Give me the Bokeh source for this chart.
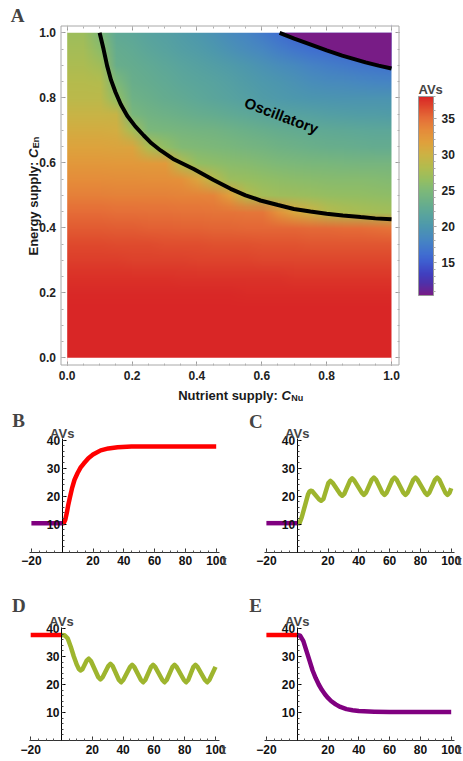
import zlib
import struct
import base64
import numpy as np
from bokeh.plotting import figure
from bokeh.models import (LinearAxis, FixedTicker, Label, LinearColorMapper, ColorBar,
                          Range1d, PrintfTickFormatter)
from bokeh.layouts import column, row
from bokeh.embed import file_html
from bokeh.resources import INLINE

# ---------------- data: panel A (heat map) ----------------
cnu_grid = [round(0.05 * i, 2) for i in range(21)]   # nutrient supply (columns)
cen_grid = [round(0.05 * i, 2) for i in range(21)]   # energy supply (rows, bottom to top)
avs_grid = [
    [38.0] * 21,
    [38.0] * 21,
    [38.0] * 21,
    [37.9] * 21,
    [37.8] * 11 + [37.7] * 10,
    [37.5] * 7 + [37.4] * 7 + [37.3] * 7,
    [37.0, 37.0, 37.0, 37.0, 36.9, 36.9, 36.9, 36.9, 36.8, 36.8, 36.8, 36.8, 36.7, 36.7, 36.7, 36.7, 36.6, 36.6, 36.6, 36.6, 36.6],
    [36.5, 36.5, 36.5, 36.4, 36.4, 36.4, 36.3, 36.3, 36.3, 36.2, 36.2, 36.2, 36.1, 36.1, 36.1, 36.0, 36.0, 36.0, 36.0, 36.0, 36.0],
    [35.8, 35.8, 35.8, 35.7, 35.7, 35.6, 35.6, 35.5, 35.5, 35.4, 35.4, 35.3, 35.3, 35.2, 35.2, 35.1, 35.1, 35.0, 35.0, 34.8, 34.6],
    [35.0, 35.0, 35.0, 34.9, 34.9, 34.8, 34.8, 34.7, 34.7, 34.6, 34.6, 34.5, 34.5, 32.8, 31.0, 30.0, 28.6, 28.0, 27.7, 27.5, 27.3],
    [34.0, 34.0, 34.0, 33.9, 33.9, 33.8, 33.8, 33.7, 33.7, 33.6, 31.8, 28.5, 27.4, 27.1, 26.9, 26.7, 26.5, 26.4, 26.3, 26.2, 26.1],
    [33.2, 33.2, 33.2, 33.1, 33.1, 33.0, 33.0, 32.9, 31.3, 28.6, 26.9, 26.6, 26.3, 26.1, 25.9, 25.8, 25.7, 25.6, 25.5, 25.4, 25.3],
    [32.3, 32.3, 32.3, 32.2, 32.2, 32.1, 32.1, 28.3, 26.4, 26.1, 25.8, 25.5, 25.2, 25.0, 24.8, 24.7, 24.6, 24.5, 24.4, 24.4, 24.4],
    [31.4, 31.4, 31.4, 31.3, 31.3, 28.0, 26.3, 25.3, 25.1, 24.9, 24.7, 24.4, 24.1, 23.8, 23.6, 23.4, 23.2, 23.1, 23.0, 22.9, 22.8],
    [30.5, 30.5, 30.5, 30.4, 27.5, 24.8, 24.6, 24.4, 24.2, 24.0, 23.7, 23.4, 23.1, 22.8, 22.6, 22.4, 22.3, 22.2, 22.1, 22.0, 22.0],
    [29.6, 29.6, 29.6, 29.5, 24.6, 23.9, 23.6, 23.3, 23.0, 22.7, 22.4, 22.1, 21.8, 21.5, 21.3, 21.1, 20.9, 20.8, 20.7, 20.7, 20.6],
    [28.8, 28.8, 28.8, 26.3, 23.7, 23.3, 22.9, 22.5, 22.1, 21.8, 21.4, 21.0, 20.6, 20.3, 20.0, 19.8, 19.7, 19.6, 19.6, 19.6, 19.6],
    [28.3, 28.3, 28.2, 25.0, 23.2, 22.8, 22.4, 22.0, 21.7, 21.4, 21.0, 20.6, 20.2, 19.8, 19.4, 19.0, 18.7, 18.5, 18.3, 18.1, 18.0],
    [27.8, 27.8, 27.2, 23.2, 22.8, 22.4, 22.0, 21.6, 21.2, 20.8, 20.4, 19.9, 19.4, 18.9, 18.4, 17.9, 17.5, 17.1, 16.8, 16.6, 16.4],
    [27.4, 27.4, 26.0, 22.8, 22.4, 21.9, 21.4, 20.9, 20.5, 20.0, 19.4, 18.8, 18.2, 17.5, 16.8, 16.3, 16.0, 15.7, 15.5, 15.3, 15.1],
    [27.0, 27.0, 25.0, 22.3, 22.0, 21.5, 21.0, 20.5, 20.0, 19.4, 18.7, 18.0, 17.2, 16.3, 15.5, 15.0, 14.5, 14.0, 13.5, 13.0, 12.5],
]
lower_cnu = [0.100, 0.112, 0.123, 0.135, 0.149, 0.165, 0.185, 0.21, 0.236, 0.26, 0.288,
             0.33, 0.39, 0.45, 0.504, 0.55, 0.596, 0.65, 0.699, 0.75, 0.80, 0.85, 0.905, 0.95, 1.0]
lower_cen = [1.0, 0.95, 0.899, 0.855, 0.817, 0.78, 0.745, 0.712, 0.684, 0.66, 0.638,
             0.61, 0.581, 0.548, 0.52, 0.50, 0.484, 0.47, 0.458, 0.45, 0.443, 0.438, 0.433, 0.429, 0.426]
upper_cnu = [0.655, 0.70, 0.745, 0.80, 0.848, 0.92, 0.96, 1.0]
upper_cen = [1.0, 0.982, 0.966, 0.946, 0.930, 0.909, 0.899, 0.890]
axis_ticks = [0.0, 0.2, 0.4, 0.6, 0.8, 1.0]
colorbar_ticks = [15, 20, 25, 30, 35]
avs_low, avs_high = 10.4, 38.0
region_label = "Oscillatory"

# ---------------- data: panels B-E (time courses) ----------------
t_pre = [-20, 0]
B_pre = [10.3, 10.3]
B_t = [0, 1, 2, 3, 4, 5, 6.5, 8, 10, 12, 14, 17, 20, 25, 30, 36, 45, 60, 100]
B_avs = [10.3, 10.3, 11.5, 14, 17, 19.5, 23, 25.8, 28.2, 30.2, 31.6, 33.5, 34.8, 36.3, 37.0, 37.4, 37.7, 37.7, 37.7]

C_pre = [10.3, 10.3]
C_t = [0, 1.5, 3, 5, 7, 8.0, 8.7, 9.8,
       14.2, 15.6, 17.0, 20.2, 21.6, 23.0, 27.8, 29.2, 30.6, 34.3, 35.7, 37.1,
       41.9, 43.3, 44.7, 48.4, 49.8, 51.2, 55.3, 56.7, 58.1, 61.8, 63.2, 64.6,
       68.9, 70.3, 71.7, 75.4, 76.8, 78.2, 83.0, 84.4, 85.8, 89.5, 90.9, 92.3,
       96.2, 97.6, 99.0, 100]
C_avs = [10.3, 10.3, 12.5, 16.5, 20.5, 21.6, 21.9, 21.7,
         18.8, 18.3, 18.9, 24.6, 25.4, 24.7, 20.8, 20.1, 20.8, 25.5, 26.3, 25.5,
         21.2, 20.4, 21.2, 25.8, 26.6, 25.8, 21.2, 20.4, 21.2, 25.8, 26.6, 25.8,
         21.2, 20.4, 21.2, 25.8, 26.6, 25.8, 21.2, 20.4, 21.2, 25.8, 26.6, 25.8,
         21.2, 20.4, 21.2, 22.8]

D_pre = [37.7, 37.7]
D_t = [0, 2, 4, 6, 8, 10, 11.2, 12.3, 13.5,
       16.3, 17.7, 19.1, 23.9, 25.3, 26.7, 30.4, 31.8, 33.2, 37.3, 38.7, 40.1,
       44.5, 45.9, 47.3, 51.6, 53.0, 54.4, 58.1, 59.5, 60.9, 65.5, 66.9, 68.3,
       72.0, 73.4, 74.8, 79.5, 80.9, 82.3, 85.6, 87.0, 88.4, 93.2, 94.6, 96.0, 100]
D_avs = [37.7, 37.6, 36.5, 33.5, 30.0, 27.0, 25.6, 25.0, 25.4,
         28.5, 29.2, 28.4, 22.6, 21.8, 22.6, 26.6, 27.4, 26.6, 21.6, 20.8, 21.6,
         26.2, 27.0, 26.2, 21.6, 20.8, 21.6, 26.2, 27.0, 26.2, 21.6, 20.8, 21.6,
         26.2, 27.0, 26.2, 21.6, 20.8, 21.6, 26.2, 27.0, 26.2, 21.6, 20.8, 21.6, 26.3]

E_pre = [37.7, 37.7]
E_t = [0, 2, 4, 6, 8, 10, 12, 14, 16, 18, 20, 22, 25, 28, 32, 36, 40, 50, 60, 100]
E_avs = [37.7, 37.4, 35.5, 32.0, 28.5, 25.0, 22.3, 20.0, 18.1, 16.5, 15.2, 14.1, 12.9, 12.0, 11.2, 10.8, 10.5, 10.3, 10.2, 10.2]

x_ticks_small = [-20, 20, 40, 60, 80, 100]
y_ticks_small = [10, 20, 30, 40]

# ---------------- styling ----------------
SANS = "Liberation Sans"
SERIF = "Liberation Serif"
RED = "#FF0000"
PURPLE = "#800080"
OLIVE = "#9EB52E"

stops = [(10.4, "#781C86"), (12.0, "#5030A8"), (13.4, "#4040C0"), (15.0, "#3E5DD0"),
         (16.2, "#406FD0"), (18.0, "#4685C3"), (20.0, "#4D98AD"), (21.7, "#5AA59C"),
         (23.1, "#68AE8C"), (25.0, "#7EB978"), (26.4, "#94BE62"), (28.2, "#B2BC4E"),
         (30.0, "#CDB244"), (31.7, "#E0A03C"), (33.3, "#E58C3A"), (35.0, "#E56E38"),
         (36.3, "#E0502F"), (38.0, "#D92626")]


def hex2rgb(h):
    return [int(h[i:i + 2], 16) for i in (1, 3, 5)]


def build_palette(n=256):
    vals = np.array([s[0] for s in stops])
    cols = np.array([hex2rgb(s[1]) for s in stops], dtype=float)
    out = []
    for v in np.linspace(vals[0], vals[-1], n):
        rgb = [np.interp(v, vals, cols[:, k]) for k in range(3)]
        out.append("#%02x%02x%02x" % tuple(int(round(c)) for c in rgb))
    return out


palette = build_palette()
mapper = LinearColorMapper(palette=palette, low=avs_low, high=avs_high)


def map_color(v):
    n = len(palette)
    k = int((v - avs_low) / (avs_high - avs_low) * n)
    return hex2rgb(palette[min(max(k, 0), n - 1)])


def grid_png_url(grid):
    rows = [list(r) for r in grid[::-1]]   # PNG rows run top to bottom
    h, w = len(rows), len(rows[0])
    raw = b"".join(b"\x00" + bytes([c for v in r for c in map_color(v)]) for r in rows)

    def chunk(tag, data):
        return (struct.pack(">I", len(data)) + tag + data +
                struct.pack(">I", zlib.crc32(tag + data) & 0xffffffff))
    png = (b"\x89PNG\r\n\x1a\n" + chunk(b"IHDR", struct.pack(">IIBBBBB", w, h, 8, 2, 0, 0, 0)) +
           chunk(b"IDAT", zlib.compress(raw)) + chunk(b"IEND", b""))
    return "data:image/png;base64," + base64.b64encode(png).decode()


# ---------------- panel A ----------------
W_A, H_A = 463, 404
FL, FR, FT, FB = 60, 398, 25, 364          # grey frame box, canvas px
DL, DR, DT, DB = 66.7, 391.0, 32.3, 357.3   # data square [0,1]^2, canvas px
sxA = DR - DL
syA = DB - DT


def a_x(px):
    return (px - DL) / sxA


def a_y(py):
    return (DB - py) / syA


pa = figure(width=W_A, height=H_A, x_range=Range1d(a_x(0), a_x(W_A)),
            y_range=Range1d(a_y(H_A), a_y(0)),
            output_backend="svg", toolbar_location=None,
            x_axis_location=None, y_axis_location=None,
            min_border=0, min_border_left=0, min_border_right=0,
            min_border_top=0, min_border_bottom=0)
pa.outline_line_color = None
pa.xgrid.visible = False
pa.ygrid.visible = False

step = cnu_grid[1] - cnu_grid[0]
pa.image_url(url=[grid_png_url(avs_grid)], x=cnu_grid[0] - step / 2, y=cen_grid[-1] + step / 2,
             w=cnu_grid[-1] - cnu_grid[0] + step, h=cen_grid[-1] - cen_grid[0] + step,
             anchor="top_left")
# white margin around the data square
pa.quad(left=[-5, 1, 0, 0], right=[0, 5, 1, 1], bottom=[-5, -5, -5, 1], top=[5, 5, 0, 5],
        fill_color="white", line_color=None)
pa.patch(x=upper_cnu + [1.0], y=upper_cen + [1.0], fill_color=palette[0], line_color=None)
pa.line(lower_cnu, lower_cen, line_width=4, color="black")
pa.line(upper_cnu, upper_cen, line_width=4, color="black")
pa.quad(left=[a_x(FL + 0.5)], right=[a_x(FR + 0.5)], bottom=[a_y(FB + 0.5)], top=[a_y(FT + 0.5)],
        fill_color=None, line_color="#a8a8a8", line_width=1)

pa.add_layout(Label(x=a_x(281), y=a_y(115), text=region_label, angle=-0.36,
                    text_align="center", text_baseline="middle", text_font=SANS,
                    text_font_style="bold", text_font_size="15px", text_color="black"))

minor_a = [round(0.05 * i, 2) for i in range(21)]


def frame_axis(loc, side, tick_in, show_labels, standoff=5):
    ax = LinearAxis(fixed_location=loc,
                    ticker=FixedTicker(ticks=axis_ticks, minor_ticks=minor_a),
                    formatter=PrintfTickFormatter(format="%.1f"))
    ax.axis_line_color = None
    ax.major_tick_line_color = "#9a9a9a"
    ax.minor_tick_line_color = "#b0b0b0"
    if tick_in:
        ax.major_tick_in, ax.major_tick_out, ax.minor_tick_in, ax.minor_tick_out = 4, 0, 2, 0
    else:
        ax.major_tick_in, ax.major_tick_out, ax.minor_tick_in, ax.minor_tick_out = 0, 4, 0, 2
    ax.major_label_text_font = SANS
    ax.major_label_text_font_style = "bold"
    ax.major_label_text_font_size = "12px"
    ax.major_label_text_color = "#222222" if show_labels else None
    ax.major_label_standoff = standoff
    pa.add_layout(ax, side)


frame_axis(a_y(FB + 0.5), "below", True, True, 6)
frame_axis(a_y(FT + 0.5), "below", False, False)
frame_axis(a_x(FL + 0.5), "left", True, True, 5)
frame_axis(a_x(FR + 0.5), "left", False, False)

CB_L, CB_T, CB_B = 418, 96, 295
cb = ColorBar(color_mapper=mapper, location=(CB_L, H_A - CB_B), width=15, height=CB_B - CB_T,
              padding=0, margin=0,
              ticker=FixedTicker(ticks=colorbar_ticks, minor_ticks=list(range(11, 39))),
              major_label_text_font=SANS, major_label_text_font_style="bold",
              major_label_text_font_size="12px", major_label_text_color="#222222",
              label_standoff=5,
              major_tick_in=0, major_tick_out=3, minor_tick_in=0, minor_tick_out=2,
              major_tick_line_color="#999999", minor_tick_line_color="#aaaaaa",
              bar_line_color="#999999", background_fill_color=None)
pa.add_layout(cb, "center")
pa.add_layout(Label(x=a_x(CB_L), y=a_y(89), text="AVs", text_font=SANS, text_font_style="bold",
                    text_font_size="13px", text_align="left", text_baseline="alphabetic"))

# axis titles of panel A (bold text, italic C, small subscript)
lab_kw = dict(text_font=SANS, text_font_style="bold", text_font_size="13px",
              text_color="#1a1a1a", text_baseline="alphabetic", text_align="left")
sub_kw = dict(text_font=SANS, text_font_style="bold", text_font_size="9px",
              text_color="#1a1a1a", text_baseline="alphabetic", text_align="left")
it_kw = dict(lab_kw, text_font_style="bold italic")
x0 = 177.7
base = 394.5
pa.add_layout(Label(x=a_x(x0), y=a_y(base), text="Nutrient supply: ", **lab_kw))
pa.add_layout(Label(x=a_x(x0 + 103.3), y=a_y(base), text="C", **it_kw))
pa.add_layout(Label(x=a_x(x0 + 113.0), y=a_y(base + 2.5), text="Nu", **sub_kw))
y0 = 255.0
bx = 32.6
pa.add_layout(Label(x=a_x(bx), y=a_y(y0), text="Energy supply: ", angle=np.pi / 2, **lab_kw))
pa.add_layout(Label(x=a_x(bx), y=a_y(y0 - 97.5), text="C", angle=np.pi / 2, **it_kw))
pa.add_layout(Label(x=a_x(bx + 2.5), y=a_y(y0 - 107.2), text="En", angle=np.pi / 2, **sub_kw))
pa.add_layout(Label(x=a_x(17), y=a_y(15), text="A", text_font=SERIF, text_font_style="bold",
                    text_font_size="19px", text_align="center", text_baseline="middle"))

# ---------------- panels B-E ----------------
SX, SY = 1.54, 2.8


def small_panel(w, h, x0px, y0px, letter, letter_px, pre_vals, pre_color, t, vals, color):
    def dx(px):
        return (px - x0px) / SX

    def dy(py):
        return (y0px - py) / SY

    p = figure(width=w, height=h, x_range=Range1d(dx(0), dx(w)), y_range=Range1d(dy(h), dy(0)),
               output_backend="svg", toolbar_location=None,
               x_axis_location=None, y_axis_location=None,
               min_border=0, min_border_left=0, min_border_right=0,
               min_border_top=0, min_border_bottom=0)
    p.outline_line_color = None
    p.xgrid.visible = False
    p.ygrid.visible = False
    p.line(t_pre, pre_vals, line_width=4.5, color=pre_color)
    p.line(t, vals, line_width=4.5, color=color, line_join="round")

    xa = LinearAxis(fixed_location=0, bounds=(-21, 102.3),
                    ticker=FixedTicker(ticks=x_ticks_small,
                                       minor_ticks=[v for v in range(-20, 101, 5)]))
    xa.major_label_overrides = {-20: "\u221220"}
    xa.axis_line_color = "#333333"
    xa.major_tick_line_color = "#333333"
    xa.minor_tick_line_color = "#555555"
    xa.major_tick_in, xa.major_tick_out, xa.minor_tick_in, xa.minor_tick_out = 4, 0, 2, 0
    xa.major_label_standoff = 4
    ya = LinearAxis(fixed_location=0, bounds=(0, 40.5),
                    ticker=FixedTicker(ticks=y_ticks_small, minor_ticks=list(range(2, 41, 2))))
    ya.axis_line_color = "black"
    ya.major_tick_line_color = "black"
    ya.minor_tick_line_color = "#444444"
    ya.major_tick_in, ya.major_tick_out, ya.minor_tick_in, ya.minor_tick_out = 4, 0, 2, 0
    ya.major_label_standoff = 2
    for ax in (xa, ya):
        ax.major_label_text_font = SANS
        ax.major_label_text_font_style = "bold"
        ax.major_label_text_font_size = "12px"
        ax.major_label_text_color = "#111111"
    p.add_layout(xa, "below")
    p.add_layout(ya, "left")

    p.add_layout(Label(x=0, y=dy(y0px - 118.8), text="AVs", text_font=SANS, text_font_style="bold",
                       text_font_size="13px", text_align="center", text_baseline="alphabetic"))
    p.add_layout(Label(x=104.0, y=dy(y0px + 8.5), text="t", text_font=SANS,
                       text_font_style="bold", text_font_size="13px",
                       text_align="left", text_baseline="alphabetic"))
    p.add_layout(Label(x=dx(letter_px[0]), y=dy(letter_px[1]), text=letter, text_font=SERIF,
                       text_font_style="bold", text_font_size="19px",
                       text_align="center", text_baseline="middle"))
    return p


pb = small_panel(230, 176, 61.7, 147.5, "B", (18, 16), B_pre, PURPLE, B_t, B_avs, RED)
pc = small_panel(233, 176, 66.7, 147.5, "C", (25.3, 16.5), C_pre, PURPLE, C_t, C_avs, OLIVE)
pd = small_panel(230, 181, 61.0, 160.0, "D", (18.3, 25.3), D_pre, RED, D_t, D_avs, OLIVE)
pe = small_panel(233, 181, 66.7, 160.0, "E", (25.0, 25.0), E_pre, RED, E_t, E_avs, PURPLE)

layout = column(pa, row(pb, pc, spacing=0), row(pd, pe, spacing=0), spacing=0)

with open("out.html", "w") as f:
    f.write(file_html(layout, INLINE))
